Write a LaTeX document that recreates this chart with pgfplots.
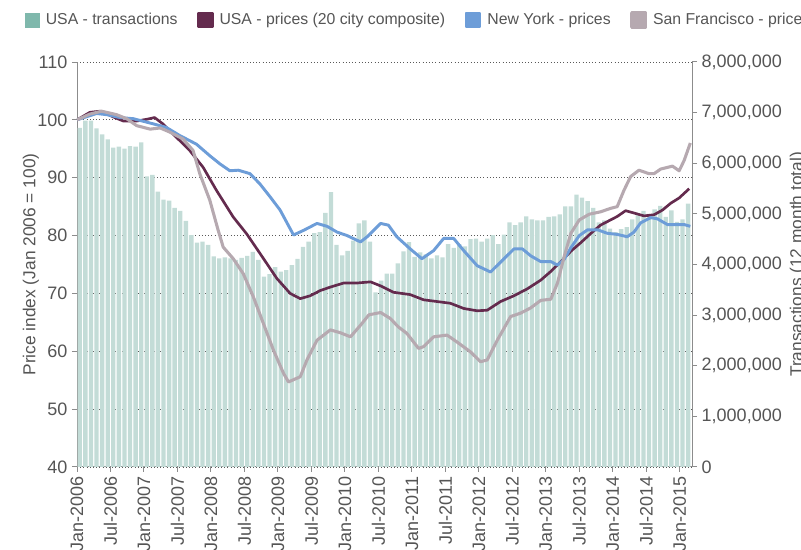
\documentclass[border=0pt]{standalone}
\usepackage{fontspec}
\setmainfont{Liberation Sans}
\usepackage{pgfplots}
\pgfplotsset{compat=1.18}
\definecolor{barcol}{HTML}{C3DCD7}
\definecolor{legteal}{HTML}{7FB8AC}
\definecolor{usacol}{HTML}{642B4E}
\definecolor{nycol}{HTML}{6D9DD8}
\definecolor{sfcol}{HTML}{B6A9B0}
\definecolor{txtcol}{HTML}{555555}
\definecolor{axcol}{HTML}{8C8C8C}
\pgfplotsset{common/.style={at={(57.75pt,62.25pt)}, anchor=south west, scale only axis,
  width=461.25pt, height=303.75pt, xmin=0, xmax=110.2,
  /pgf/number format/assume math mode=true,
  tick label style={font=\fontsize{13.5}{15}\selectfont, color=txtcol},
  label style={font=\fontsize{13}{15}\selectfont, color=txtcol},
  tick align=outside, major tick length=3.75pt, tick style={axcol, line width=0.75pt},
  axis line style={axcol, line width=0.75pt, -},
  every outer x axis line/.append style={-}, every outer y axis line/.append style={-}}}
\begin{document}
\begin{tikzpicture}
\begin{axis}[common, ymin=40, ymax=110, axis x line*=bottom, axis y line*=left,
  ytick={40,50,...,110}, ymajorgrids, grid style={dotted, color=black!65, line width=0.6pt},
  xtick={0,6,...,108},
  xticklabels={Jan-2006,Jul-2006,Jan-2007,Jul-2007,Jan-2008,Jul-2008,Jan-2009,Jul-2009,Jan-2010,Jul-2010,Jan-2011,Jul-2011,Jan-2012,Jul-2012,Jan-2013,Jul-2013,Jan-2014,Jul-2014,Jan-2015},
  xticklabel style={rotate=90, anchor=east},
  ylabel={Price index (Jan 2006 = 100)},
  ylabel style={at={(axis description cs:-0.0748,0.5)}, anchor=center}]
\addplot[draw=none] coordinates {(0,40)};
\end{axis}
\begin{axis}[common, ymin=0, ymax=8000000, axis y line*=right, axis x line=none, xtick=\empty,
  ytick={0,1000000,2000000,3000000,4000000,5000000,6000000,7000000,8000000},
  scaled y ticks=false,
  yticklabel style={/pgf/number format/fixed, /pgf/number format/1000 sep={,}},
  ylabel={Transactions (12 month total)},
  ylabel style={at={(axis description cs:1.172,0.5)}, anchor=center},
  ybar, bar width=0.78]
\addplot[fill=barcol, draw=none] coordinates {
(0.5,6700000)(1.5,6840000)(2.5,6840000)(3.5,6690000)(4.5,6570000)(5.5,6470000)(6.5,6310000)(7.5,6330000)(8.5,6290000)(9.5,6340000)
(10.5,6330000)(11.5,6410000)(12.5,5740000)(13.5,5770000)(14.5,5440000)(15.5,5280000)(16.5,5260000)(17.5,5120000)(18.5,5060000)(19.5,4860000)
(20.5,4580000)(21.5,4430000)(22.5,4450000)(23.5,4390000)(24.5,4160000)(25.5,4120000)(26.5,4140000)(27.5,4120000)(28.5,4090000)(29.5,4130000)
(30.5,4170000)(31.5,4250000)(32.5,4090000)(33.5,3760000)(34.5,3810000)(35.5,3950000)(36.5,3860000)(37.5,3890000)(38.5,3990000)(39.5,4110000)
(40.5,4350000)(41.5,4450000)(42.5,4620000)(43.5,4640000)(44.5,5020000)(45.5,5430000)(46.5,4390000)(47.5,4180000)(48.5,4270000)(49.5,4470000)
(50.5,4810000)(51.5,4870000)(52.5,4450000)(53.5,3450000)(54.5,3680000)(55.5,3820000)(56.5,3820000)(57.5,4020000)(58.5,4260000)(59.5,4440000)
(60.5,4150000)(61.5,4240000)(62.5,4200000)(63.5,4120000)(64.5,4180000)(65.5,4140000)(66.5,4400000)(67.5,4330000)(68.5,4400000)(69.5,4360000)
(70.5,4500000)(71.5,4510000)(72.5,4450000)(73.5,4510000)(74.5,4580000)(75.5,4400000)(76.5,4590000)(77.5,4830000)(78.5,4780000)(79.5,4830000)
(80.5,4950000)(81.5,4890000)(82.5,4870000)(83.5,4870000)(84.5,4940000)(85.5,4950000)(86.5,4990000)(87.5,5150000)(88.5,5150000)(89.5,5380000)
(90.5,5320000)(91.5,5250000)(92.5,5120000)(93.5,4830000)(94.5,4870000)(95.5,4710000)(96.5,4640000)(97.5,4700000)(98.5,4740000)(99.5,4890000)
(100.5,4970000)(101.5,5060000)(102.5,5000000)(103.5,5090000)(104.5,5160000)(105.5,4940000)(106.5,5070000)(107.5,4840000)(108.5,4890000)(109.5,5200000)};
\end{axis}
\begin{axis}[common, ymin=40, ymax=110, hide axis,
  legend columns=4,
  legend image code/.code={\fill[#1] (0pt,-5.25pt) rectangle (10.5pt,5.25pt);},
  legend style={draw=none, fill=none, inner sep=0pt, at={(axis description cs:-0.0845,1.1037)}, anchor=west,
    font=\fontsize{11.85}{14}\selectfont, text=txtcol,
    /tikz/every odd column/.append style={column sep=2.5pt},
    /tikz/every even column/.append style={column sep=12.5pt}}]
\addlegendimage{color=legteal}
\addlegendentry{USA - transactions}
\addplot[color=usacol, line width=2pt, line join=round] coordinates {
(0,100.0)(2.3,101.3)(4.1,101.5)(5.5,101.0)(6.5,100.5)(8.3,99.8)(10.7,99.8)(12.5,100.1)(13.9,100.4)(15.4,99.3)(17.8,97.0)(20.2,94.7)(22.6,91.8)
(25.0,87.8)(28.0,83.2)(30.4,80.3)(32.8,76.9)(35.8,72.6)(38.2,70.0)(40.0,69.1)(41.8,69.6)(43.6,70.5)(45.4,71.1)(47.8,71.8)(50.2,71.8)
(52.6,72.0)(54.4,71.3)(56.7,70.2)(59.7,69.8)(62.1,68.9)(64.5,68.6)(66.9,68.3)(69.3,67.4)(71.7,67.0)(73.5,67.1)(75.9,68.6)(78.3,69.6)
(80.7,70.8)(83.1,72.3)(84.9,73.8)(86.7,75.5)(88.5,77.3)(90.3,78.8)(92.1,80.4)(93.8,81.8)(95.6,82.7)(96.8,83.3)(98.3,84.3)(99.8,83.9)
(101.6,83.4)(103.4,83.6)(104.9,84.4)(106.4,85.6)(107.9,86.5)(109.7,88.1)};
\addlegendentry{USA - prices (20 city composite)}
\addplot[color=nycol, line width=2.2pt, line join=round] coordinates {
(0,100.0)(3.5,101.1)(5.3,100.9)(7.7,100.4)(10.1,100.2)(13.7,99.3)(16.0,98.7)(18.4,97.3)(21.4,95.8)(23.8,93.8)(25.6,92.4)(27.4,91.2)
(28.9,91.3)(31.0,90.7)(32.8,88.9)(34.6,86.7)(36.4,84.4)(38.8,80.1)(40.6,80.9)(43.0,82.1)(44.8,81.6)(46.6,80.6)(48.4,80.0)(50.8,78.9)
(52.0,79.8)(54.4,82.1)(55.8,81.8)(57.3,79.8)(59.7,77.7)(61.8,76.0)(63.9,77.4)(65.7,79.5)(67.5,79.5)(69.3,77.4)(71.7,74.8)(74.1,73.7)
(75.9,75.4)(78.3,77.7)(79.8,77.7)(81.3,76.5)(83.1,75.5)(84.9,75.5)(86.1,74.9)(87.3,75.9)(88.5,77.9)(90.0,80.0)(91.5,81.0)(93.3,81.0)
(95.0,80.4)(96.8,80.2)(98.6,79.8)(99.8,80.6)(101.0,82.2)(102.8,83.1)(104.0,82.9)(105.8,81.9)(107.6,81.9)(108.8,81.9)(109.9,81.6)};
\addlegendentry{New York - prices}
\addplot[color=sfcol, line width=2.3pt, line join=round] coordinates {
(0,100.0)(2.3,101.0)(4.4,101.5)(7.1,100.9)(8.9,100.2)(10.7,99.0)(13.1,98.4)(14.9,98.6)(16.6,97.9)(19.0,96.7)(20.8,94.7)(22.0,90.7)
(23.8,86.1)(25.3,80.9)(26.2,78.0)(28.0,76.0)(29.8,73.4)(31.6,69.4)(33.4,64.8)(35.2,60.2)(37.0,56.2)(37.9,54.7)(40.0,55.6)(41.2,58.5)
(43.0,61.9)(45.4,63.7)(47.2,63.2)(49.0,62.5)(50.8,64.5)(52.3,66.3)(54.4,66.7)(56.1,65.7)(57.6,64.2)(59.1,63.1)(61.2,60.5)(62.1,60.8)
(63.9,62.5)(66.3,62.8)(68.1,61.6)(70.5,59.9)(72.3,58.2)(73.5,58.5)(75.3,61.9)(77.7,66.0)(79.5,66.6)(81.3,67.5)(83.1,68.8)(84.9,69.0)
(86.1,71.8)(87.3,76.4)(88.5,80.4)(90.0,82.7)(91.8,83.7)(93.8,84.1)(95.6,84.7)(96.8,85.0)(98.0,87.8)(99.2,90.2)(100.7,91.3)(102.5,90.7)
(103.4,90.7)(104.6,91.5)(106.7,92.0)(107.9,91.2)(108.8,93.0)(109.9,96.0)};
\addlegendentry{San Francisco - prices}
\end{axis}
\pgfresetboundingbox
\path[use as bounding box] (0,0) rectangle (600.75pt,412.5pt);
\end{tikzpicture}
\end{document}
